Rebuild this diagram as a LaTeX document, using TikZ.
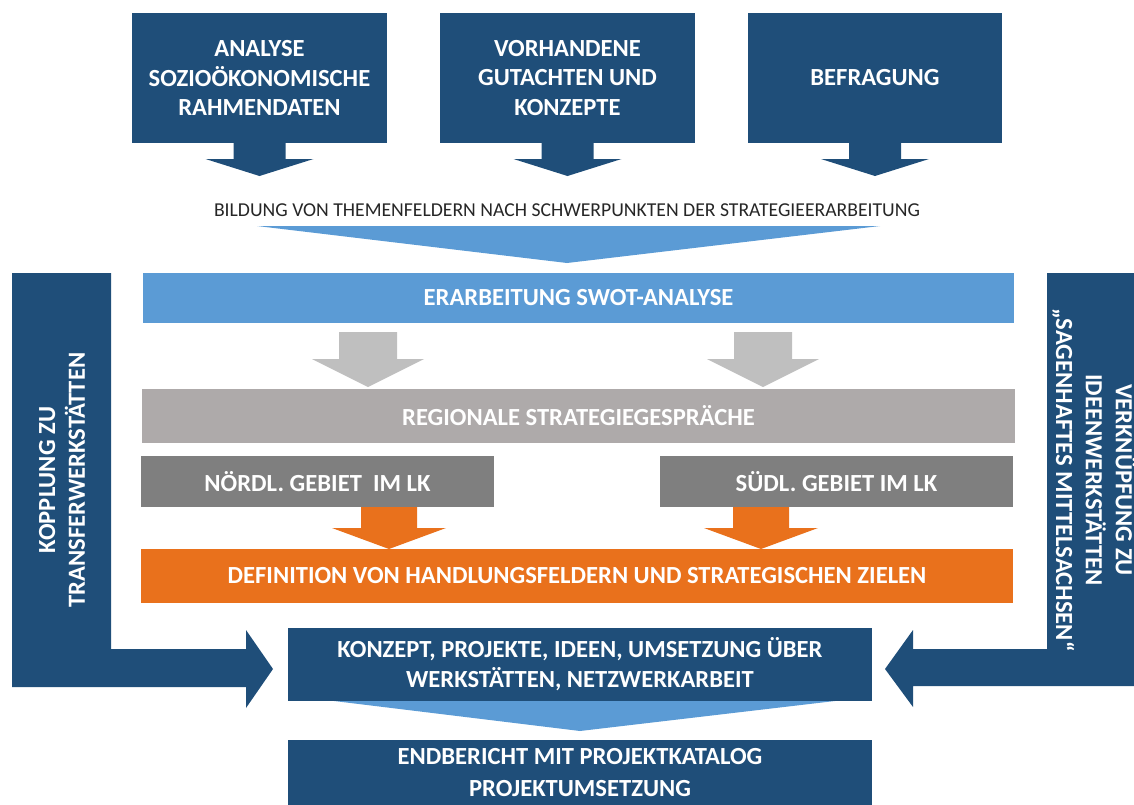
\documentclass[tikz,border=0pt]{standalone}
\usepackage{fontspec}
\setmainfont{Carlito}
\usetikzlibrary{positioning}

\definecolor{darkblue}{HTML}{1F4E79}
\definecolor{lightblue}{HTML}{5B9BD5}
\definecolor{greyarrow}{HTML}{BFBFBF}
\definecolor{greybar}{HTML}{AEAAAA}
\definecolor{darkgrey}{HTML}{7F7F7F}
\definecolor{accentorange}{HTML}{E9711C}

\begin{document}
\begin{tikzpicture}[x=0.02cm,y=-0.02cm,
  box/.style={rectangle,inner sep=0pt,text=white,align=center,
    font=\fontsize{14}{17}\selectfont\bfseries}]

%SPACING
\useasboundingbox (0,0) rectangle (1134,805);
%SPACING

\node[box,fill=darkblue,minimum width=5.1cm,minimum height=2.6cm](input1) at (259.5,78) {ANALYSE\\SOZIOÖKONOMISCHE\\RAHMENDATEN};
\node[box,fill=darkblue,minimum width=5.1cm,minimum height=2.6cm](input2) at (567.5,78) {VORHANDENE\\GUTACHTEN UND\\KONZEPTE};
\node[box,fill=darkblue,minimum width=5.1cm,minimum height=2.6cm](input3) at (875,78) {BEFRAGUNG};

\node[font=\fontsize{11.2}{13}\selectfont,text=black!85](themes) at (567,210) {BILDUNG VON THEMENFELDERN NACH SCHWERPUNKTEN DER STRATEGIEERARBEITUNG};

\node[box,fill=lightblue,minimum width=17.42cm,minimum height=1.0cm](swot) at (578.5,298) {ERARBEITUNG SWOT-ANALYSE};
\node[box,fill=greybar,minimum width=17.46cm,minimum height=1.08cm](talks) at (578.5,416) {REGIONALE STRATEGIEGESPRÄCHE};
\node[box,fill=darkgrey,minimum width=7.06cm,minimum height=1.02cm](north) at (317.5,481.5) {NÖRDL. GEBIET ~IM LK};
\node[box,fill=darkgrey,minimum width=7.06cm,minimum height=1.02cm](south) at (836.5,481.5) {SÜDL. GEBIET IM LK};
\node[box,fill=accentorange,minimum width=17.44cm,minimum height=1.08cm](goals) at (577,576) {DEFINITION VON HANDLUNGSFELDERN UND STRATEGISCHEN ZIELEN};
\node[box,fill=darkblue,minimum width=11.68cm,minimum height=1.46cm](concept) at (580,664.5) {KONZEPT, PROJEKTE, IDEEN, UMSETZUNG ÜBER\\WERKSTÄTTEN, NETZWERKARBEIT};
\node[box,fill=darkblue,minimum width=11.68cm,minimum height=1.3cm,text depth=0pt](report) at (580,772.5) {ENDBERICHT MIT PROJEKTKATALOG\\[1pt]PROJEKTUMSETZUNG};

% block arrows
\foreach \cx in {259.5,567.5,875}
  \fill[darkblue] (\cx-26,143) -- (\cx-26,159) -- (\cx-54,159) -- (\cx,176) -- (\cx+54,159) -- (\cx+26,159) -- (\cx+26,143) -- cycle;

\fill[lightblue] (257,226) -- (880,226) -- (567,263) -- cycle;

\foreach \cx in {368,763}
  \fill[greyarrow] (\cx-29,332) -- (\cx-29,359) -- (\cx-56,359) -- (\cx,387) -- (\cx+56,359) -- (\cx+29,359) -- (\cx+29,332) -- cycle;

\foreach \cx in {389,761}
  \fill[accentorange] (\cx-28,507) -- (\cx-28,528) -- (\cx-57,528) -- (\cx,549) -- (\cx+57,528) -- (\cx+28,528) -- (\cx+28,507) -- cycle;

\fill[lightblue] (334,701) -- (835,701) -- (580,731) -- cycle;

% side links
\fill[darkblue] (12,273) -- (111,273) -- (111,649) -- (246,649) -- (246,630) -- (273,669) -- (246,708) -- (246,687) -- (12,687) -- cycle;
\node[box,rotate=90](transfer) at (62,480) {KOPPLUNG ZU\\TRANSFERWERKSTÄTTEN};

\fill[darkblue] (1047,273) -- (1134,273) -- (1134,686) -- (913,686) -- (913,707) -- (885,669) -- (913,630) -- (913,649) -- (1047,649) -- cycle;
\node[box,rotate=-90](ideas) at (1094,480) {VERKNÜPFUNG ZU\\IDEENWERKSTÄTTEN\\„SAGENHAFTES MITTELSACHSEN“};

\end{tikzpicture}
\end{document}
